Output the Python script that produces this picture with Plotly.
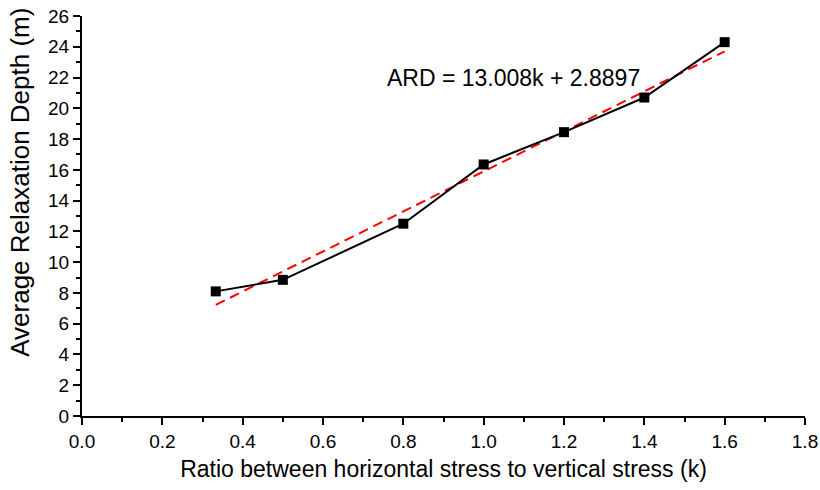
import plotly.graph_objects as go

k_vals = [0.333, 0.5, 0.8, 1.0, 1.2, 1.4, 1.6]
ard_vals = [8.1, 8.85, 12.5, 16.35, 18.45, 20.7, 24.3]
fit_slope = 13.008
fit_intercept = 2.8897
fit_label = "ARD = 13.008k + 2.8897"
y_title = "Average Relaxation Depth (m)"
x_title = "Ratio between horizontal stress to vertical stress (k)"

fit_x = [k_vals[0], k_vals[-1]]
fit_y = [fit_slope * x + fit_intercept for x in fit_x]

fig = go.Figure()
fig.add_trace(go.Scatter(x=fit_x, y=fit_y, mode="lines",
                         line=dict(color="#ff0000", width=2, dash="10px,6px"),
                         showlegend=False))
fig.add_trace(go.Scatter(x=k_vals, y=ard_vals, mode="lines+markers",
                         line=dict(color="black", width=2),
                         marker=dict(symbol="square", size=10, color="black"),
                         showlegend=False))

FONT = "Liberation Sans, Arial"
fig.add_annotation(x=1.075, y=22.0, text=fit_label, showarrow=False,
                   font=dict(family=FONT, size=23, color="black"))
fig.add_annotation(xref="paper", yref="paper", x=-0.086, y=0.585, text=y_title,
                   textangle=-90, showarrow=False, xanchor="center", yanchor="middle",
                   font=dict(family=FONT, size=26, color="black"))

axis_font = dict(family=FONT, size=19, color="black")
fig.update_layout(
    width=820, height=490,
    margin=dict(l=82, r=15, t=16, b=74),
    paper_bgcolor="white", plot_bgcolor="white",
    font=dict(family=FONT, color="black"),
    xaxis=dict(range=[0, 1.8], tick0=0, dtick=0.2, tickformat=".1f", automargin=False,
               showgrid=False, zeroline=False, showline=True, linecolor="black", linewidth=2,
               ticks="outside", ticklen=7, tickwidth=2, tickcolor="black",
               tickfont=axis_font,
               minor=dict(dtick=0.1, ticks="outside", ticklen=4, tickwidth=1.5, tickcolor="black", showgrid=False),
               title=dict(text=x_title,
                          font=dict(family=FONT, size=23, color="black"), standoff=10)),
    yaxis=dict(range=[0, 26], tick0=0, dtick=2, automargin=False,
               showgrid=False, zeroline=False, showline=True, linecolor="black", linewidth=2,
               ticks="outside", ticklen=7, tickwidth=2, tickcolor="black",
               tickfont=axis_font,
               minor=dict(dtick=1, ticks="outside", ticklen=4, tickwidth=1.5, tickcolor="black", showgrid=False)),
)

fig.write_html("out.html")
